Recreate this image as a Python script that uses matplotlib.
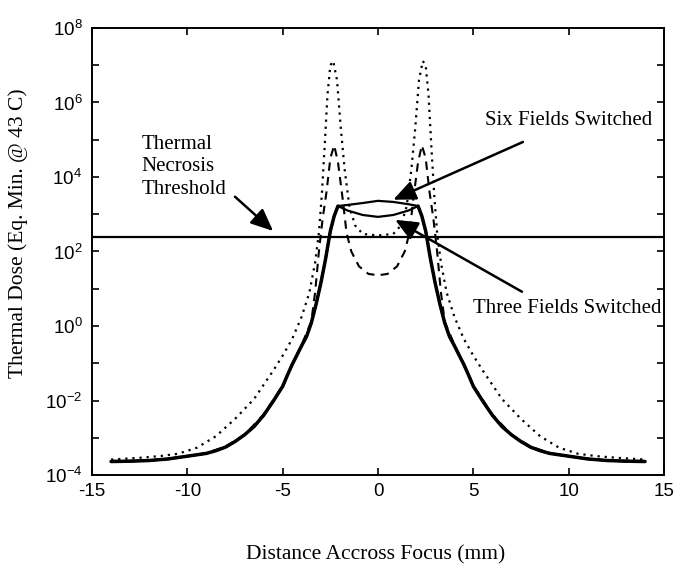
import numpy as np
import matplotlib.pyplot as plt

plt.rcParams['font.family'] = ['Liberation Sans', 'DejaVu Sans']

# solid curves: three / six fields switched share the tails, differ in the centre
x_solid = [-14, -13, -12, -11, -10, -9, -8.5, -8, -7.5, -7, -6.5, -6, -5.5, -5, -4.75,
           -4.5, -4.25, -4, -3.75, -3.5, -3.25, -3, -2.75, -2.5, -2.3, -2.1,
           -1.6, -0.8, 0, 0.8, 1.6,
           2.1, 2.3, 2.5, 2.75, 3, 3.25, 3.5, 3.75, 4, 4.25, 4.5, 4.75, 5, 5.5, 6,
           6.5, 7, 7.5, 8, 8.5, 9, 10, 11, 12, 13, 14]
tail_left = [2.3e-4, 2.35e-4, 2.45e-4, 2.7e-4, 3.2e-4, 3.8e-4, 4.5e-4, 5.6e-4, 7.9e-4,
             1.2e-3, 2.0e-3, 4.0e-3, 9.5e-3, 2.4e-2, 4.8e-2, 9.3e-2, 0.166, 0.30, 0.52,
             1.2, 3.8, 14, 63, 355, 890, 1660]
dose_three = tail_left + [1260, 955, 850, 955, 1260] + tail_left[::-1]
dose_six = tail_left + [1780, 2000, 2290, 2140, 1860] + tail_left[::-1]

x_dashed = [-14, -13, -12, -11, -10, -9, -8, -7, -6, -5, -4.5, -4, -3.5, -3.3, -3.1,
            -2.9, -2.7, -2.5, -2.3, -2.1, -1.85, -1.65, -1.4, -1.0, -0.5, 0, 0.5,
            1.0, 1.4, 1.65, 1.85, 2.1, 2.3, 2.5, 2.7, 2.9, 3.1, 3.3, 3.5, 4, 4.5,
            5, 6, 7, 8, 9, 10, 11, 12, 13, 14]
dose_dashed = [2.4e-4, 2.4e-4, 2.5e-4, 2.7e-4, 3.2e-4, 3.9e-4, 5.8e-4, 1.2e-3, 4.2e-3,
               2.5e-2, 0.095, 0.32, 1.3, 7.9, 100, 790, 4000, 3.2e4, 7.1e4, 2.5e4,
               2500, 316, 100, 40, 25, 23, 25, 40, 100, 316, 2500, 2.5e4, 7.1e4,
               3.2e4, 4000, 790, 100, 7.9, 1.3, 0.32, 0.095, 2.5e-2, 4.2e-3, 1.2e-3,
               5.8e-4, 3.9e-4, 3.2e-4, 2.7e-4, 2.5e-4, 2.4e-4, 2.4e-4]

x_dotted = [-14, -12.5, -11.5, -10.5, -9.5, -8.5, -7.5, -6.5, -5.5, -5, -4.5, -4, -3.6,
            -3.3, -3.1, -2.95, -2.8, -2.65, -2.5, -2.35, -2.15, -1.95, -1.75, -1.5,
            -1.2, -0.8, 0, 0.8, 1.2, 1.5, 1.75, 1.95, 2.15, 2.35, 2.5, 2.65, 2.8,
            2.95, 3.1, 3.3, 3.6, 4, 4.5, 5, 5.5, 6.5, 7.5, 8.5, 9.5, 10.5, 11.5,
            12.5, 14]
dose_dotted = [2.6e-4, 2.9e-4, 3.2e-4, 3.7e-4, 5.4e-4, 1.1e-3, 3.2e-3, 1.1e-2, 6.3e-2,
               0.16, 0.45, 1.8, 7.9, 50, 316, 3200, 6.3e4, 1.6e6, 1.0e7, 1.3e7,
               4.0e6, 2.0e5, 1.6e4, 1600, 500, 295, 270, 295, 500, 1600, 1.6e4,
               2.0e5, 4.0e6, 1.3e7, 1.0e7, 1.6e6, 6.3e4, 3200, 316, 50, 7.9, 1.8,
               0.45, 0.16, 6.3e-2, 1.1e-2, 3.2e-3, 1.1e-3, 5.4e-4, 3.7e-4, 3.2e-4,
               2.9e-4, 2.6e-4]

threshold = 240

x_ticks = [-15, -10, -5, 0, 5, 10, 15]
y_ticks = [1e-4, 1e-3, 1e-2, 1e-1, 1e0, 1e1, 1e2, 1e3, 1e4, 1e5, 1e6, 1e7, 1e8]
y_ticklabels = [r'$\mathdefault{10^{-4}}$', '', r'$\mathdefault{10^{-2}}$', '',
                r'$\mathdefault{10^{0}}$', '', r'$\mathdefault{10^{2}}$', '',
                r'$\mathdefault{10^{4}}$', '', r'$\mathdefault{10^{6}}$', '',
                r'$\mathdefault{10^{8}}$']

serif = ['Liberation Serif', 'DejaVu Serif']

fig = plt.figure(figsize=(6.8, 5.69), dpi=100)
ax = fig.add_axes([0.1353, 0.1652, 0.8412, 0.7856])

xs = np.array(x_solid)
d3 = np.array(dose_three)
ax.plot(x_dotted, dose_dotted, color='k', lw=1.6, linestyle=(0, (1, 2.2)))
ax.plot(x_dashed, dose_dashed, color='k', lw=1.5, linestyle=(0, (4, 3)))
ax.plot(x_solid, dose_three, color='k', lw=1.6)
ax.plot(x_solid, dose_six, color='k', lw=1.6)
ax.plot(xs[xs <= -2.1], d3[xs <= -2.1], color='k', lw=2.5, solid_capstyle='round')
ax.plot(xs[xs >= 2.1], d3[xs >= 2.1], color='k', lw=2.5, solid_capstyle='round')
ax.axhline(threshold, color='k', lw=1.6)

ax.set_yscale('log')
ax.set_xlim(-15, 15)
ax.set_ylim(1e-4, 1e8)
ax.set_xticks(x_ticks)
ax.set_xticklabels([str(t) for t in x_ticks])
ax.set_yticks(y_ticks)
ax.set_yticklabels(y_ticklabels)
ax.yaxis.set_minor_locator(plt.NullLocator())
ax.tick_params(direction='in', top=True, right=True, length=5, width=1.2,
               labelsize=13.5)
ax.tick_params(axis='x', pad=6)
ax.tick_params(axis='y', pad=7)
for s in ax.spines.values():
    s.set_linewidth(1.4)

ax.set_xlabel('Distance Accross Focus (mm)', family=serif, fontsize=15.5)
ax.set_ylabel('Thermal Dose (Eq. Min. @ 43 C)', family=serif, fontsize=15.5)
ax.xaxis.set_label_coords(0.495, -0.157)
ax.yaxis.set_label_coords(-0.112, 0.54)

arrow = dict(arrowstyle='-|>,head_length=0.8,head_width=0.35', color='k', lw=1.8,
             mutation_scale=17, shrinkA=0, shrinkB=0)
ax.text(-12.4, 10**4.27, 'Thermal\nNecrosis\nThreshold', family=serif, fontsize=15,
        ha='left', va='center', linespacing=1.25)
ax.annotate('', xy=(-5.5, 10**2.55), xytext=(-7.5, 10**3.47), arrowprops=arrow)
ax.text(10.0, 10**5.52, 'Six Fields Switched', family=serif, fontsize=15,
        ha='center', va='center')
ax.annotate('', xy=(0.8, 10**3.39), xytext=(7.6, 10**4.94), arrowprops=arrow)
ax.text(9.9, 10**0.47, 'Three Fields Switched', family=serif, fontsize=15,
        ha='center', va='center')
ax.annotate('', xy=(0.9, 10**2.85), xytext=(7.55, 10**0.92), arrowprops=arrow)

fig.savefig('out.png', dpi=100)
